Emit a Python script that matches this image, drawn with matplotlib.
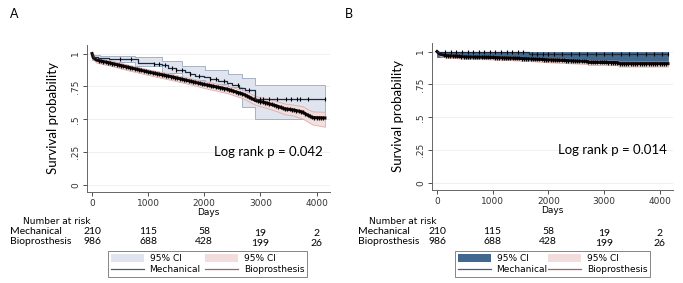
import numpy as np
import matplotlib.pyplot as plt
from matplotlib.patches import Patch
from matplotlib.lines import Line2D
from matplotlib.transforms import blended_transform_factory

# ---- Panel A : Kaplan-Meier (days, survival) ----
a_mech_t = [0, 20, 100, 300, 800, 820, 1100, 1250, 1350, 1500, 1650, 1750, 1840, 2000, 2100,
            2250, 2400, 2500, 2620, 2730, 2910, 4150]
a_mech_s = [1.0, 0.975, 0.967, 0.962, 0.96, 0.93, 0.922, 0.915, 0.89, 0.875, 0.862, 0.845, 0.833,
            0.82, 0.805, 0.795, 0.775, 0.758, 0.74, 0.72, 0.653, 0.653]
a_mech_ci_t = [0, 150, 770, 1250, 1600, 2020, 2430, 2680, 2910, 4150]
a_mech_ci_hi = [0.99, 0.985, 0.97, 0.947, 0.909, 0.876, 0.848, 0.813, 0.763, 0.763]
a_mech_ci_lo = [0.95, 0.934, 0.909, 0.85, 0.80, 0.77, 0.745, 0.593, 0.50, 0.50]
a_mech_cens = [500, 700, 1100, 1200, 1300, 1420, 1500, 1600, 1750, 1900, 2100, 2200, 2350,
               2600, 2800, 3000, 3050, 3150, 3300, 3450, 3550, 3650, 3700, 3850, 4150]

a_bio_t = [0, 20, 80, 300, 600, 1000, 1400, 1800, 2000, 2400, 2700, 2910, 3100, 3300, 3430, 3600, 3750, 3850, 3930, 4150]
a_bio_s = [1.0, 0.97, 0.95, 0.93, 0.90, 0.86, 0.825, 0.785, 0.765, 0.73, 0.69, 0.644, 0.625, 0.60, 0.58, 0.57, 0.555, 0.53, 0.513, 0.51]
a_bio_hi = [1.0, 0.985, 0.97, 0.95, 0.92, 0.88, 0.847, 0.808, 0.79, 0.757, 0.72, 0.677, 0.66, 0.637, 0.62, 0.61, 0.6, 0.575, 0.56, 0.557]
a_bio_lo = [1.0, 0.955, 0.93, 0.91, 0.877, 0.837, 0.80, 0.76, 0.738, 0.70, 0.658, 0.61, 0.588, 0.56, 0.538, 0.527, 0.505, 0.48, 0.46, 0.443]

# ---- Panel B ----
b_mech_t = [0, 40, 1650, 4150]
b_mech_s = [1.0, 0.993, 0.978, 0.978]
b_mech_ci_t = [0, 1650, 2700, 4150]
b_mech_ci_hi = [1.0, 1.0, 1.0, 1.0]
b_mech_ci_lo = [0.962, 0.934, 0.92, 0.92]
b_mech_cens = [150, 250, 350, 450, 550, 650, 750, 850, 950, 1050, 1150, 1250, 1350, 1450, 1550,
               1700, 1800, 1900, 2000, 2100, 2250, 2400, 2550, 2700, 2850, 3000, 3150, 3300,
               3450, 3600, 3750, 3900, 4050, 4150]

b_bio_t = [0, 50, 150, 500, 1000, 1650, 2000, 2700, 2720, 3250, 3270, 4150]
b_bio_s = [1.0, 0.98, 0.97, 0.96, 0.955, 0.945, 0.937, 0.925, 0.918, 0.916, 0.908, 0.908]
b_bio_hi = [1.0, 0.99, 0.982, 0.972, 0.967, 0.958, 0.95, 0.94, 0.933, 0.931, 0.924, 0.924]
b_bio_lo = [1.0, 0.965, 0.955, 0.945, 0.94, 0.928, 0.918, 0.905, 0.898, 0.896, 0.886, 0.886]

bio_cens = list(range(120, 4150, 40))

risk_times = [0, 1000, 2000, 3000, 4000]
risk_mech = ["210", "115", "58", "19", "2"]
risk_bio = ["986", "688", "428", "199", "26"]
logrank = ["Log rank p = 0.042", "Log rank p = 0.014"]

LINE_MECH = "#1c2a40"
LINE_BIO = "#140808"
CI_BIO = "#f3dcdc"
CI_BIO_EDGE = "#d8a8a8"


def step_at(t, s, x):
    idx = np.searchsorted(t, x, side="right") - 1
    return np.asarray(s)[idx]


def panel(ax, mech, bio, cens_mech, ci_mech_col, ci_mech_edge, text, x0_lab, x0_nar):
    mt, ms, ct, chi, clo = mech
    bt, bs, bhi, blo = bio
    ax.fill_between(ct, clo, chi, step="post", facecolor=ci_mech_col, edgecolor=ci_mech_edge, lw=0.6, zorder=2)
    ax.fill_between(bt, blo, bhi, facecolor=CI_BIO, edgecolor=CI_BIO_EDGE, lw=0.6, zorder=2, alpha=0.9)
    ax.step(mt, ms, where="post", color=LINE_MECH, lw=0.9, zorder=4)
    ax.plot(cens_mech, step_at(mt, ms, cens_mech), ls="none", marker="|", ms=3.5, mew=0.8, color="black", zorder=5)
    ax.plot(bt, bs, color=LINE_BIO, lw=2.2, zorder=3)
    ax.plot(bio_cens, np.interp(bio_cens, bt, bs), ls="none", marker="|", ms=3.5, mew=0.9, color="black", zorder=3)

    ax.set_xlim(-90, 4240)
    ax.set_ylim(-0.053, 1.065)
    ax.set_yticks([0, 0.25, 0.5, 0.75, 1])
    ax.set_yticklabels(["0", ".25", ".5", ".75", "1"], rotation=90, va="center")
    ax.set_xticks(risk_times)
    ax.tick_params(labelsize=6.5, length=3, width=0.6, colors="#333333", pad=2)
    for s in ["top", "right"]:
        ax.spines[s].set_visible(False)
    for s in ["left", "bottom"]:
        ax.spines[s].set_color("#666666")
        ax.spines[s].set_linewidth(0.7)
    ax.grid(axis="y", color="#eeeeee", lw=0.6, zorder=0)
    ax.set_axisbelow(True)
    ax.set_xlabel("Days", fontsize=6.5, labelpad=0)
    ax.set_ylabel("Survival probability", fontsize=9.5, family="Lato", labelpad=9)
    ax.text(3150, 0.25, text, fontsize=9.5, family="Lato", ha="center", va="center")

    tr = blended_transform_factory(ax.transData, fig.transFigure)
    fig.text(x0_nar / 683, 1 - 221 / 283, "Number at risk", fontsize=6.5, va="center")
    fig.text(x0_lab / 683, 1 - 232 / 283, "Mechanical", fontsize=7.5, family="Lato", va="center")
    fig.text(x0_lab / 683, 1 - 242 / 283, "Bioprosthesis", fontsize=7.5, family="Lato", va="center")
    for i, t in enumerate(risk_times):
        dy = 2 if t >= 3000 else 0
        ax.text(t, 1 - (232 + dy) / 283, risk_mech[i], transform=tr, fontsize=7.5, family="Lato", ha="center", va="center")
        ax.text(t, 1 - (242 + dy) / 283, risk_bio[i], transform=tr, fontsize=7.5, family="Lato", ha="center", va="center")


def legend(ci_col, x0, x1):
    handles = [Patch(facecolor=ci_col, edgecolor="none"),
               Line2D([], [], color="#4a5a72", lw=0.9),
               Patch(facecolor=CI_BIO, edgecolor="none"),
               Line2D([], [], color="#a06262", lw=0.9)]
    labels = ["95% CI", "Mechanical", "95% CI", "Bioprosthesis"]
    lg = fig.legend(handles, labels, ncol=2, mode="expand", loc="lower left",
                    bbox_to_anchor=(x0 / 683, 6 / 283, (x1 - x0) / 683, 28 / 283),
                    bbox_transform=fig.transFigure, fontsize=6.5, frameon=True, fancybox=False,
                    handlelength=3.7, handleheight=0.9, borderpad=0.3, labelspacing=0.25,
                    handletextpad=0.6, borderaxespad=0)
    lg.get_frame().set_edgecolor("#666666")
    lg.get_frame().set_linewidth(0.7)


fig = plt.figure(figsize=(6.83, 2.83), dpi=100)
axA = fig.add_axes([87 / 683, 1 - 192 / 283, (330 - 87) / 683, (192 - 45) / 283])
axB = fig.add_axes([432 / 683, 1 - 190 / 283, (673 - 432) / 683, (190 - 43) / 283])

panel(axA, (a_mech_t, a_mech_s, a_mech_ci_t, a_mech_ci_hi, a_mech_ci_lo),
      (a_bio_t, a_bio_s, a_bio_hi, a_bio_lo), a_mech_cens, "#dfe4ee", "#9aa8bf", logrank[0], 10, 23)
panel(axB, (b_mech_t, b_mech_s, b_mech_ci_t, b_mech_ci_hi, b_mech_ci_lo),
      (b_bio_t, b_bio_s, b_bio_hi, b_bio_lo), b_mech_cens, "#41698f", "#41698f", logrank[1], 358, 369)

legend("#dfe4ee", 108, 307)
legend("#41698f", 455, 650)

fig.text(10 / 683, 1 - 14 / 283, "A", fontsize=9, family="Lato", va="center")
fig.text(345 / 683, 1 - 14 / 283, "B", fontsize=9, family="Lato", va="center")

fig.savefig("out.png", dpi=100)
